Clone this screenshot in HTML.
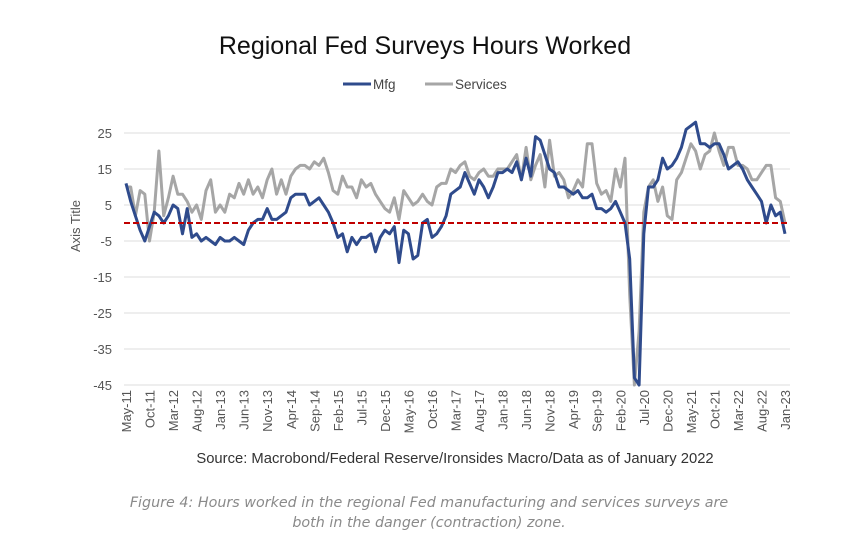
<!DOCTYPE html>
<html><head><meta charset="utf-8"><style>
body{margin:0;background:#fff;width:858px;height:560px;overflow:hidden;font-family:"Liberation Sans",sans-serif}
.cap{position:absolute;left:0;width:858px;text-align:center;font-style:italic;color:#8a8a8a;font-size:14.3px;line-height:20px;font-family:"DejaVu Sans","Liberation Sans",sans-serif}
</style></head><body>
<svg id="c" width="858" height="480" style="position:absolute;left:0;top:0">
<text x="425" y="54" text-anchor="middle" font-size="25" fill="#111">Regional Fed Surveys Hours Worked</text>
<g>
<line x1="343" y1="84" x2="371" y2="84" stroke="#2f4b8c" stroke-width="3"/>
<text x="373" y="89" font-size="13.5" fill="#444">Mfg</text>
<line x1="425" y1="84" x2="453" y2="84" stroke="#a6a6a6" stroke-width="3"/>
<text x="455" y="89" font-size="13.5" fill="#444">Services</text>
</g>
<text transform="translate(80,226) rotate(-90)" text-anchor="middle" font-size="13" fill="#555">Axis Title</text>
<g id="grid"></g><g id="marks"></g><g id="xl"></g>
<text x="455" y="463" text-anchor="middle" font-size="14.8" fill="#333">Source: Macrobond/Federal Reserve/Ironsides Macro/Data as of January 2022</text>
</svg>
<div class="cap" style="top:493px">Figure 4: Hours worked in the regional Fed manufacturing and services surveys are<br>both in the danger (contraction) zone.</div>
<script>
const yTicks=[25,15,5,-5,-15,-25,-35,-45];
const xLabels=["May-11","Oct-11","Mar-12","Aug-12","Jan-13","Jun-13","Nov-13","Apr-14","Sep-14","Feb-15","Jul-15","Dec-15","May-16","Oct-16","Mar-17","Aug-17","Jan-18","Jun-18","Nov-18","Apr-19","Sep-19","Feb-20","Jul-20","Dec-20","May-21","Oct-21","Mar-22","Aug-22","Jan-23"];
const mfg=[11,6,2,-2,-5,-1,3,2,
0,2,5,4,-3,4,-4,-3,-5,-4,-5,-6,
-4,-5,-5,-4,-5,-6,-2,0,1,1,4,1,
1,2,3,7,8,8,8,5,6,7,5,3,
0,-4,-3,-8,-4,-6,-4,-4,-3,-8,-4,-2,
-3,-1,-11,-2,-3,-10,-9,0,1,-4,-3,-1,
2,8,9,10,14,11,8,12,10,7,10,14,
14,15,14,17,12,18,13,24,23,19,15,14,
10,10,9,8,9,7,7,8,4,4,3,4,
6,3,0,-10,-43,-45,-3,10,10,12,18,15,
16,18,21,26,27,28,22,22,21,22,22,19,
15,16,17,15,12,10,8,6,0,5,2,3,
-3];
const services=[10,10,2,9,8,-5,3,20,
2,7,13,8,8,6,3,5,1,9,12,3,
5,3,8,7,11,8,12,8,10,7,12,15,
8,12,8,13,15,16,16,15,17,16,18,14,
9,8,13,10,10,7,12,10,11,8,6,4,
3,7,1,9,7,5,6,8,6,5,10,11,
11,15,14,16,17,13,12,14,15,13,13,15,
15,15,17,19,12,21,12,16,19,10,23,13,
14,12,7,9,12,10,22,22,11,8,9,6,
15,10,18,-20,-45,-30,3,10,12,6,10,2,
1,12,14,18,22,20,15,19,20,25,20,16,
21,21,16,16,15,12,12,14,16,16,7,6,
0];
const NS="http://www.w3.org/2000/svg";
const X0=126,X1=785,N=mfg.length;
const xs=i=>X0+(X1-X0)*i/(N-1);
const ys=v=>205-(v-5)*3.6;
const grid=document.getElementById('grid'),marks=document.getElementById('marks'),xl=document.getElementById('xl');
function mk(tag,attrs,parent){const e=document.createElementNS(NS,tag);for(const k in attrs)e.setAttribute(k,attrs[k]);parent.appendChild(e);return e;}
yTicks.forEach(v=>{
 const l=mk('line',{x1:124,x2:790,y1:ys(v),y2:ys(v),stroke:'#dcdcdc','stroke-width':1},grid);
 
 
 const t=mk('text',{x:112,y:ys(v)+5,'text-anchor':'end','font-size':13,fill:'#555'},grid);
 t.textContent=v;
 
 
});
xLabels.forEach((s,k)=>{
 const x=xs(k*5)+5;
 const t=mk('text',{transform:`translate(${x},390) rotate(-90)`,'text-anchor':'end','font-size':13,fill:'#555'},xl);
 t.textContent=s;
 
 
});
function line(arr,color,name){
 const p=mk('polyline',{points:arr.map((v,i)=>xs(i).toFixed(1)+','+ys(v).toFixed(1)).join(' '),fill:'none',stroke:color,'stroke-width':3,'stroke-linejoin':'round'},marks);
 
 
}
line(services,'#a6a6a6','services-line');
line(mfg,'#2f4b8c','mfg-line');
const z=mk('line',{x1:124,x2:790,y1:ys(0),y2:ys(0),stroke:'#c00000','stroke-width':2,'stroke-dasharray':'6,3'},marks);


</script>
</body></html>
